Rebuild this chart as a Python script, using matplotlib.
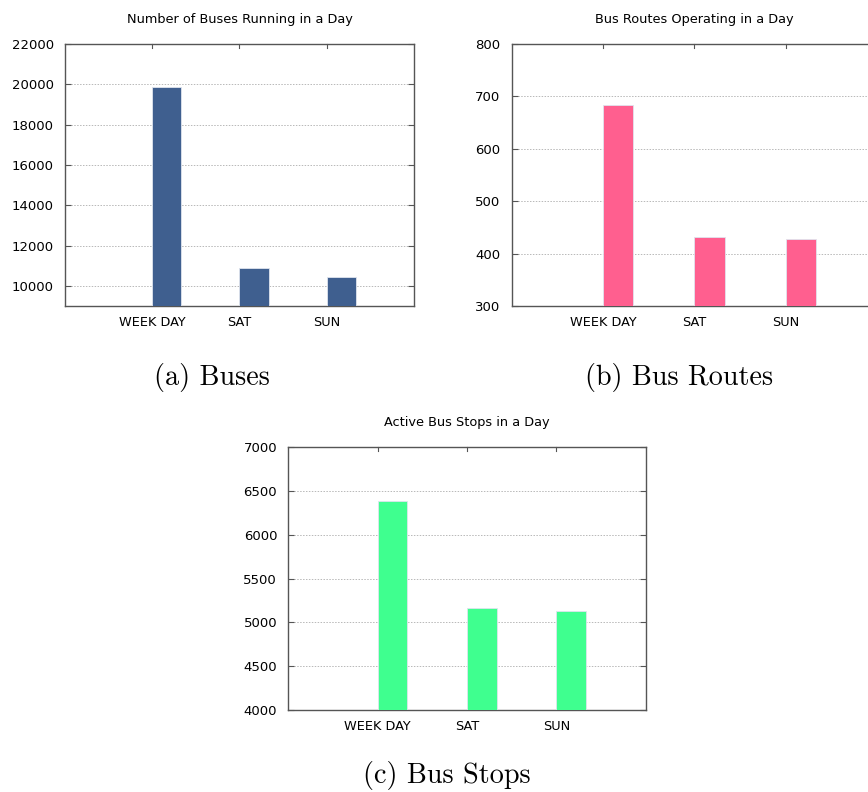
import matplotlib
matplotlib.use('Agg')
import matplotlib.pyplot as plt
import numpy as np

# Daily service counts
days = ['WEEK DAY', 'SAT', 'SUN']
buses = [19880, 10910, 10430]
routes = [683, 431, 427]
stops = [6390, 5160, 5130]

fig = plt.figure(figsize=(8.68, 7.92), dpi=100)


def bar_panel(rect, values, color, title, ylim, yticks, caption, cap_xy):
    ax = fig.add_axes(rect)
    x = np.arange(len(days))
    ax.bar(x, values, width=1 / 3, align='edge', color=color,
           edgecolor='#dfe4ee', linewidth=0.6, zorder=3)
    ax.set_xlim(-1, 3)
    ax.set_ylim(*ylim)
    ax.set_yticks(yticks)
    ax.set_xticks(x)
    ax.set_xticklabels(days, fontsize=9.3)
    ax.tick_params(axis='x', direction='in', length=0, pad=7)
    ax.tick_params(axis='y', direction='in', length=4, pad=8, labelsize=9.5,
                   right=True, color='#555555')
    # small ticks along the top border
    for xi in x:
        ax.plot([xi, xi], [1, 0.985], transform=ax.get_xaxis_transform(),
                color='#555555', lw=0.8, clip_on=False, zorder=4)
    ax.grid(axis='y', color='#b8b8b8', linestyle=(0, (1.5, 1.5)), lw=0.7, zorder=0)
    for s in ax.spines.values():
        s.set_color('#555555')
        s.set_linewidth(1.0)
    ax.set_title(title, fontsize=9.3, pad=15)
    fig.text(cap_xy[0], cap_xy[1], caption, family='cmr10', fontsize=20.3,
             ha='center', va='center')
    return ax


bar_panel([0.0749, 0.6136, 0.402, 0.3308], buses, '#3f5f8f',
          'Number of Buses Running in a Day', (9000, 22000),
          range(10000, 22001, 2000), '(a) Buses', (212 / 868, 1 - 377 / 792))
bar_panel([0.5895, 0.6136, 0.4209, 0.3308], routes, '#ff5f8f',
          'Bus Routes Operating in a Day', (300, 800),
          range(300, 801, 100), '(b) Bus Routes', (679 / 868, 1 - 377 / 792))
bar_panel([0.3321, 0.1035, 0.4118, 0.3317], stops, '#3fff8f',
          'Active Bus Stops in a Day', (4000, 7000),
          range(4000, 7001, 500), '(c) Bus Stops', (447 / 868, 1 - 775 / 792))

fig.savefig('out.png', dpi=100)
